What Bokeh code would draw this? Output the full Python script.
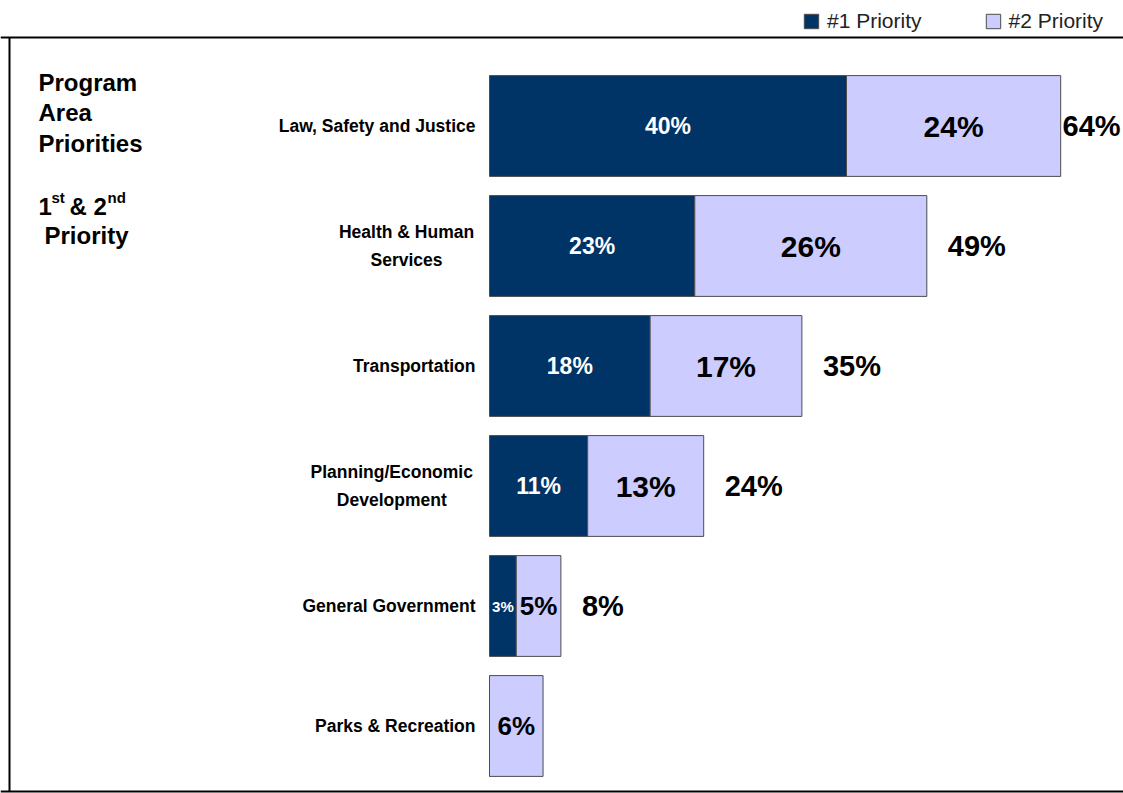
import numpy as np
from bokeh.plotting import figure
from bokeh.models import ColumnDataSource, Range1d, Label, Legend, LegendItem, Span
from bokeh.core.properties import value
from bokeh.embed import file_html
from bokeh.resources import INLINE

# ---------------- data ----------------
categories = ["Law, Safety and Justice", "Health & Human\nServices", "Transportation",
              "Planning/Economic\nDevelopment", "General Government", "Parks & Recreation"]
priority1 = [40, 23, 18, 11, 3, 0]
priority2 = [24, 26, 17, 13, 5, 6]
series_names = ["#1 Priority", "#2 Priority"]
title_lines = ["Program", "Area", "Priorities"]

# ---------------- style ----------------
NAVY = "#003366"
LAV = "#CCCCFF"
EDGE = "#4d4d4d"
FONT = "Liberation Sans"

W, H = 1123, 793
SCALE = 8.925        # px per percent
X0 = 489             # px position of 0 %
ROW = 120            # px per category row
Y0 = 125.5           # px from top to first row centre

xr = Range1d(-X0 / SCALE, (W - X0) / SCALE)
yr = Range1d((H - Y0) / ROW, -Y0 / ROW)   # reversed: first category on top

p1 = np.array(priority1, dtype=float)
p2 = np.array(priority2, dtype=float)
tot = p1 + p2
ys = np.arange(len(categories), dtype=float)

src = ColumnDataSource(dict(
    y=ys, p1=p1, tot=tot,
    c1=p1 / 2, c2=p1 + p2 / 2,
    lab1=[f"{int(v)}%" if v > 0 else "" for v in p1],
    lab2=[f"{int(v)}%" if v > 0 else "" for v in p2],
    labt=[f"{int(t)}%" if (a > 0 and b > 0) else "" for a, b, t in zip(p1, p2, tot)],
    fs1=["15px" if v < 5 else "23px" for v in p1],
    fs2=["26px" if v < 10 else "30px" for v in p2],
    xt=np.minimum(tot + 21 / SCALE, xr.end - 61 / SCALE),
))

p = figure(width=W, height=H, x_range=xr, y_range=yr,
           x_axis_location=None, y_axis_location=None,
           output_backend="svg", toolbar_location=None,
           min_border=0, outline_line_color=None,
           background_fill_color="white", border_fill_color="white")
p.grid.visible = False

r1 = p.hbar(y="y", left=0, right="p1", height=0.84, source=src,
            fill_color=NAVY, line_color=EDGE, line_width=1)
r2 = p.hbar(y="y", left="p1", right="tot", height=0.84, source=src,
            fill_color=LAV, line_color=EDGE, line_width=1)

# value labels
p.text(x="c1", y="y", text="lab1", source=src, text_align="center",
       text_baseline="middle", text_color="white", text_font=value(FONT),
       text_font_style="bold", text_font_size="fs1")
p.text(x="c2", y="y", text="lab2", source=src, text_align="center",
       text_baseline="middle", text_color="black", text_font=value(FONT),
       text_font_style="bold", text_font_size="fs2")
p.text(x="xt", y="y", text="labt", source=src, text_align="left",
       text_baseline="middle", text_color="black", text_font=value(FONT),
       text_font_style="bold", text_font_size=value("29px"))

# category labels
single = [i for i, c in enumerate(categories) if "\n" not in c]
multi = [i for i, c in enumerate(categories) if "\n" in c]
CHAR_W = 9.85
src_s = ColumnDataSource(dict(y=ys[single], t=[categories[i] for i in single]))
src_m = ColumnDataSource(dict(
    y=ys[multi], t=[categories[i] for i in multi],
    off=[-(14 + CHAR_W * max(len(s) for s in categories[i].split("\n")) / 2) for i in multi]))
p.text(x=0, y="y", text="t", source=src_s, x_offset=-14, text_align="right",
       text_baseline="middle", text_font=value(FONT), text_font_style="bold",
       text_font_size=value("17.5px"), text_color="black")
p.text(x=0, y="y", text="t", source=src_m, x_offset="off", text_align="center",
       text_baseline="middle", text_font=value(FONT), text_font_style="bold",
       text_font_size=value("17.5px"), text_color="black", text_line_height=1.38)

# frame lines (left, top, bottom)
top_y = -(Y0 - 37) / ROW
bot_y = (791 - Y0) / ROW
left_x = (9 - X0) / SCALE
p.add_layout(Span(location=top_y, dimension="width", line_color="black", line_width=2))
p.add_layout(Span(location=bot_y, dimension="width", line_color="black", line_width=2))
p.segment(x0=[left_x], x1=[left_x], y0=[top_y], y1=[bot_y],
          line_color="black", line_width=2)

# title block (screen units: x from left, y from bottom)
for txt, yy in zip(title_lines, [711, 681, 650]):
    p.add_layout(Label(x=38, y=yy, x_units="screen", y_units="screen", text=txt,
                       text_font=FONT, text_font_style="bold", text_font_size="24px",
                       text_baseline="alphabetic", text_color="black"))
for txt, xx, yy, fs in [("1", 38, 587, "24px"), ("st", 51, 596, "15px"),
                        ("& 2", 69, 587, "24px"), ("nd", 107, 596, "15px")]:
    p.add_layout(Label(x=xx, y=yy, x_units="screen", y_units="screen", text=txt,
                       text_font=FONT, text_font_style="bold", text_font_size=fs,
                       text_baseline="alphabetic", text_color="black"))
p.add_layout(Label(x=86, y=558, x_units="screen", y_units="screen", text="Priority",
                   text_font=FONT, text_font_style="bold", text_font_size="24px",
                   text_align="center", text_baseline="alphabetic", text_color="black"))

# legend
legend = Legend(items=[LegendItem(label=series_names[0], renderers=[r1]),
                       LegendItem(label=series_names[1], renderers=[r2])],
                orientation="horizontal", location=(802, 760),
                border_line_color=None, background_fill_alpha=0,
                glyph_width=18, glyph_height=18, label_standoff=7, spacing=62,
                padding=0, margin=0, label_text_font=FONT,
                label_text_font_size="21px", label_text_color="#222222")
p.add_layout(legend)

open("out.html", "w").write(file_html(p, INLINE))
